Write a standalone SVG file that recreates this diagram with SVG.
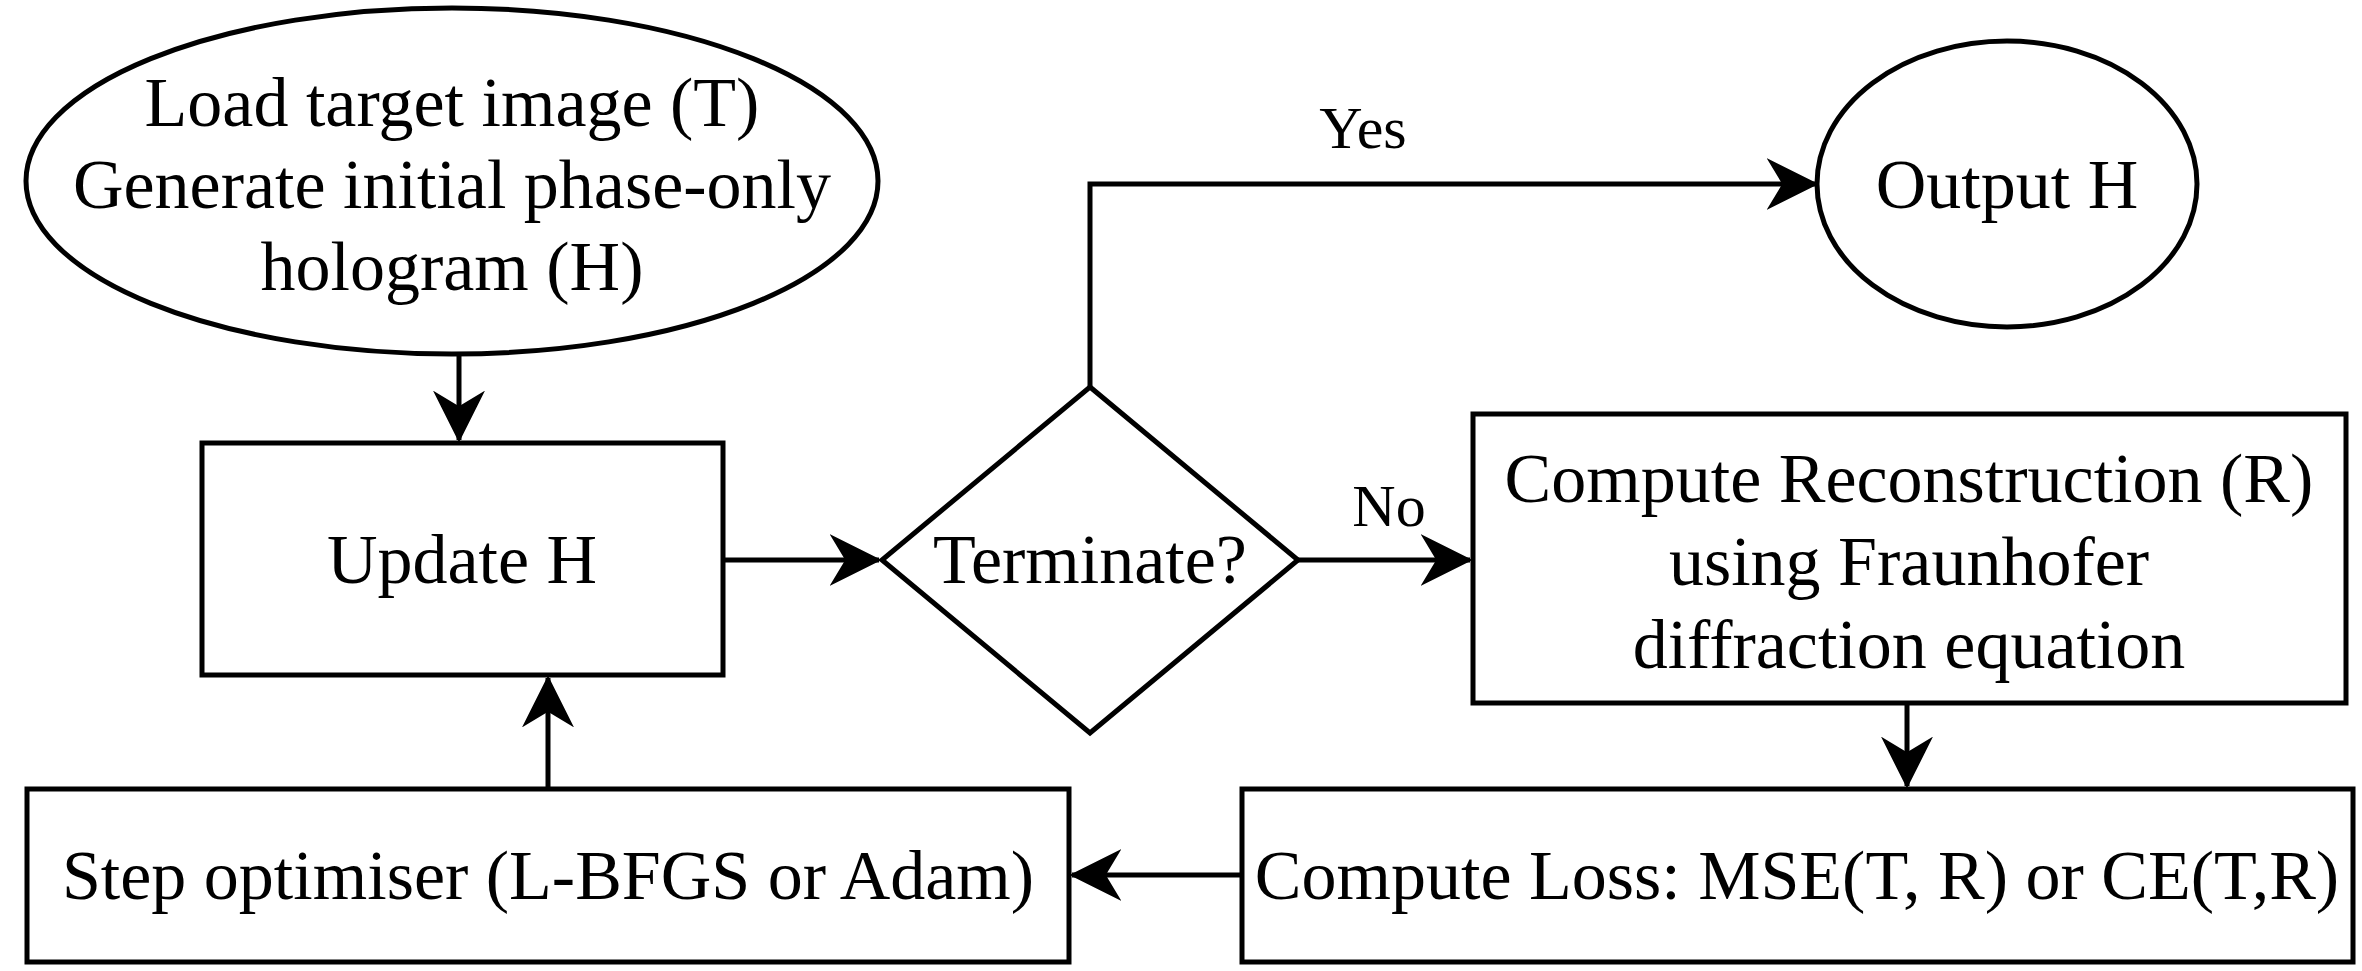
<svg xmlns="http://www.w3.org/2000/svg" width="2362" height="971" viewBox="0 0 2362 971">
<style>
.s{fill:#fff;stroke:#000;stroke-width:5}
.c{fill:none;stroke:#000;stroke-width:5}
text{font-family:"Liberation Serif","Times New Roman",serif;font-size:70px;fill:#000;text-anchor:middle}
</style>
<defs>
<marker id="b" viewBox="0 0 20 20" refX="19" refY="10" markerWidth="52" markerHeight="52" markerUnits="userSpaceOnUse" orient="auto"><path d="M0,0 L20,10 L0,20 L6,10z" fill="#000"/></marker></defs>
<rect width="2362" height="971" fill="#fff"/>
<g id="connectors">
<path class="c" d="M459,354 V440" marker-end="url(#b)"/>
<path class="c" d="M723,560 H879" marker-end="url(#b)"/>
<path class="c" d="M1298,560 H1470" marker-end="url(#b)"/>
<path class="c" d="M1090,387 V184 H1816" marker-end="url(#b)"/>
<path class="c" d="M1907,703 V786" marker-end="url(#b)"/>
<path class="c" d="M1242,875 H1072" marker-end="url(#b)"/>
<path class="c" d="M548,789 V678" marker-end="url(#b)"/>
<text x="1363" y="148" style="font-size:60px">Yes</text>
<text x="1389" y="526" style="font-size:60px">No</text>
</g>
<g id="start"><ellipse class="s" cx="452" cy="181" rx="426" ry="173"/>
<text x="452" y="126">Load target image (T)</text><text x="452" y="208">Generate initial phase-only</text><text x="452" y="290">hologram (H)</text></g>
<g id="output"><ellipse class="s" cx="2007" cy="184" rx="190" ry="143"/><text x="2007" y="208">Output H</text></g>
<g id="update"><rect class="s" x="202" y="443" width="521" height="232"/><text x="462" y="583">Update H</text></g>
<g id="terminate"><path class="s" d="M1090,387 L1298,560 L1090,733 L882,560z"/><text x="1090" y="583">Terminate?</text></g>
<g id="recon"><rect class="s" x="1473" y="414" width="873" height="289"/>
<text x="1909" y="502">Compute Reconstruction (R)</text><text x="1909" y="585">using Fraunhofer</text><text x="1909" y="668">diffraction equation</text></g>
<g id="loss"><rect class="s" x="1242" y="789" width="1111" height="173"/><text x="1797" y="899">Compute Loss: MSE(T, R) or CE(T,R)</text></g>
<g id="opt"><rect class="s" x="27" y="789" width="1042" height="173"/><text x="548" y="899">Step optimiser (L-BFGS or Adam)</text></g>
</svg>
